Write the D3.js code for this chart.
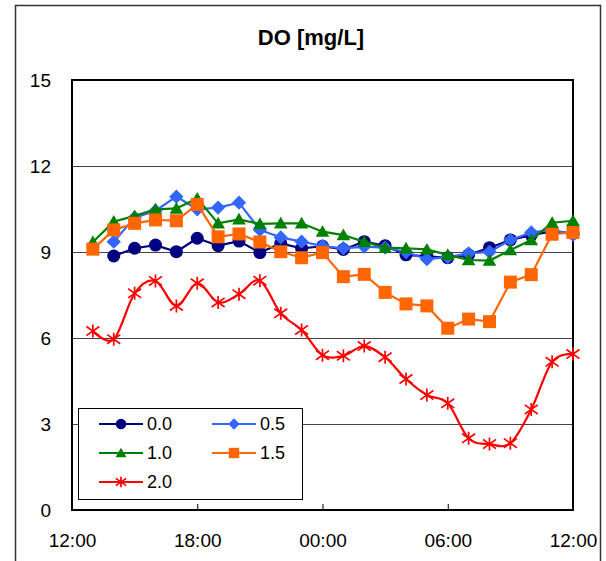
<!DOCTYPE html>
<html><head><meta charset="utf-8">
<script src="https://cdn.jsdelivr.net/npm/d3@7"></script>
<style>
body{margin:0;background:#fff}
svg{display:block}
text{font-family:"Liberation Sans",Arial,sans-serif;fill:#000}
</style>
</head><body>
<svg id="c" width="606" height="561"></svg>
<script>
// ---- data ----
const hours = [13,14,15,16,17,18,19,20,21,22,23,24,25,26,27,28,29,30,31,32,33,34,35,36];
const xTickHours = [12,18,24,30,36];
const xTickLabels = ["12:00","18:00","00:00","06:00","12:00"];
const yTicks = [0,3,6,9,12,15];
const seriesNames = ["0.0","0.5","1.0","1.5","2.0"];
const do00 = [null,8.86,9.13,9.24,9.01,9.48,9.22,9.38,8.98,9.30,9.13,9.20,9.09,9.36,9.22,8.90,8.85,8.80,8.90,9.15,9.42,9.59,9.72,9.65];
const do05 = [null,9.36,10.20,10.44,10.93,10.49,10.55,10.72,9.77,9.51,9.36,9.21,9.13,9.19,9.15,9.00,8.75,8.82,8.95,9.00,9.42,9.68,9.78,9.60];
const do10 = [9.35,10.06,10.26,10.49,10.52,10.87,10.00,10.14,9.98,10.00,10.00,9.71,9.59,9.36,9.15,9.13,9.09,8.90,8.72,8.70,9.07,9.42,10.02,10.09];
const do15 = [9.10,9.77,10.00,10.12,10.09,10.66,9.53,9.63,9.35,9.01,8.80,8.98,8.14,8.22,7.59,7.19,7.12,6.34,6.66,6.57,7.95,8.21,9.62,9.68];
const do20 = [6.24,5.96,7.56,7.99,7.12,7.91,7.24,7.53,8.00,6.86,6.28,5.40,5.38,5.72,5.33,4.57,4.01,3.72,2.50,2.30,2.33,3.51,5.17,5.44];
const seriesValues = [do00,do05,do10,do15,do20];
const seriesColors = ["#000080","#3366FF","#008000","#FF6600","#FF0000"];
const seriesMarkers = ["circle","diamond","triangle","square","star"];
const seriesSmooth = [false,false,false,false,true];

// ---- chart ----
const svg = d3.select("#c");
const x = d3.scaleLinear().domain([12,36]).range([72,573]);
const y = d3.scaleLinear().domain([0,15]).range([510,80]);

// outer border
svg.append("rect").attr("x",15.5).attr("y",5.5).attr("width",585).attr("height",620)
  .attr("fill","none").attr("stroke","#333").attr("stroke-width",1.5);

// title
svg.append("text").attr("x",311).attr("y",45).attr("text-anchor","middle")
  .attr("font-size",22).attr("font-weight","bold").text("DO [mg/L]");

// gridlines
svg.append("g").selectAll("line").data(yTicks.filter(v=>v>0 && v<15)).join("line")
  .attr("x1",72).attr("x2",573)
  .attr("y1",d=>Math.round(y(d))+0.5).attr("y2",d=>Math.round(y(d))+0.5)
  .attr("stroke","#444").attr("stroke-width",1);

// y axis labels
const yAx = svg.append("g").attr("transform","translate(72,0)")
  .call(d3.axisLeft(y).tickValues(yTicks).tickSize(0).tickPadding(21));
yAx.select(".domain").remove();
yAx.selectAll("text").attr("font-size",19).attr("font-family","Liberation Sans, Arial, sans-serif");

// x axis
const xAx = svg.append("g").attr("transform","translate(0,510)")
  .call(d3.axisBottom(x).tickValues(xTickHours).tickFormat((d,i)=>xTickLabels[i]).tickSize(-6).tickPadding(24));
xAx.select(".domain").remove();
xAx.selectAll(".tick line").attr("stroke","#000").attr("stroke-width",1);
xAx.selectAll("text").attr("font-size",19).attr("font-family","Liberation Sans, Arial, sans-serif");

// plot frame
svg.append("rect").attr("x",72).attr("y",80).attr("width",501).attr("height",430)
  .attr("fill","none").attr("stroke","#000").attr("stroke-width",2);

function markerPath(type, s){
  switch(type){
    case "diamond": return `M0,${-s*1.1}L${s*1.1},0L0,${s*1.1}L${-s*1.1},0Z`;
    case "triangle": return `M0,${-s}L${s*1.05},${s*0.8}L${-s*1.05},${s*0.8}Z`;
    case "square": return `M${-s},${-s}H${s}V${s}H${-s}Z`;
    case "star": return `M0,${-s}V${s}M${-s},${-s*0.7}L${s},${s*0.7}M${-s},${s*0.7}L${s},${-s*0.7}`;
  }
  return null;
}
function drawMarker(g, type, cx, cy, s, color){
  if(type==="circle"){
    g.append("circle").attr("cx",cx).attr("cy",cy).attr("r",s).attr("fill",color);
  } else if(type==="star"){
    g.append("path").attr("transform",`translate(${cx},${cy})`).attr("d",markerPath(type,s))
      .attr("fill","none").attr("stroke",color).attr("stroke-width",1.7);
  } else {
    g.append("path").attr("transform",`translate(${cx},${cy})`).attr("d",markerPath(type,s))
      .attr("fill",color);
  }
}

// series
seriesValues.forEach((vals,si)=>{
  const g = svg.append("g");
  const pts = hours.map((h,i)=>({h,v:vals[i]})).filter(p=>p.v!==null);
  const line = d3.line().x(p=>x(p.h)).y(p=>y(p.v))
    .curve(seriesSmooth[si] ? d3.curveCatmullRom.alpha(0) : d3.curveLinear);
  g.append("path").attr("d",line(pts)).attr("fill","none")
    .attr("stroke",seriesColors[si]).attr("stroke-width",2.2);
  pts.forEach(p=>drawMarker(g, seriesMarkers[si], x(p.h), y(p.v), 6.5, seriesColors[si]));
});

// legend
const lg = svg.append("g");
lg.append("rect").attr("x",78.5).attr("y",408.5).attr("width",224).attr("height",91)
  .attr("fill","#fff").attr("stroke","#000").attr("stroke-width",1);
const legPos = [[99,424],[212,424],[99,453],[212,453],[99,482]];
seriesNames.forEach((name,si)=>{
  const [lx,ly] = legPos[si];
  lg.append("line").attr("x1",lx).attr("x2",lx+44).attr("y1",ly).attr("y2",ly)
    .attr("stroke",seriesColors[si]).attr("stroke-width",2);
  drawMarker(lg, seriesMarkers[si], lx+22, ly, 5.2, seriesColors[si]);
  lg.append("text").attr("x",lx+48).attr("y",ly).attr("dy","0.36em")
    .attr("font-size",18).text(name);
});
</script>
</body></html>
